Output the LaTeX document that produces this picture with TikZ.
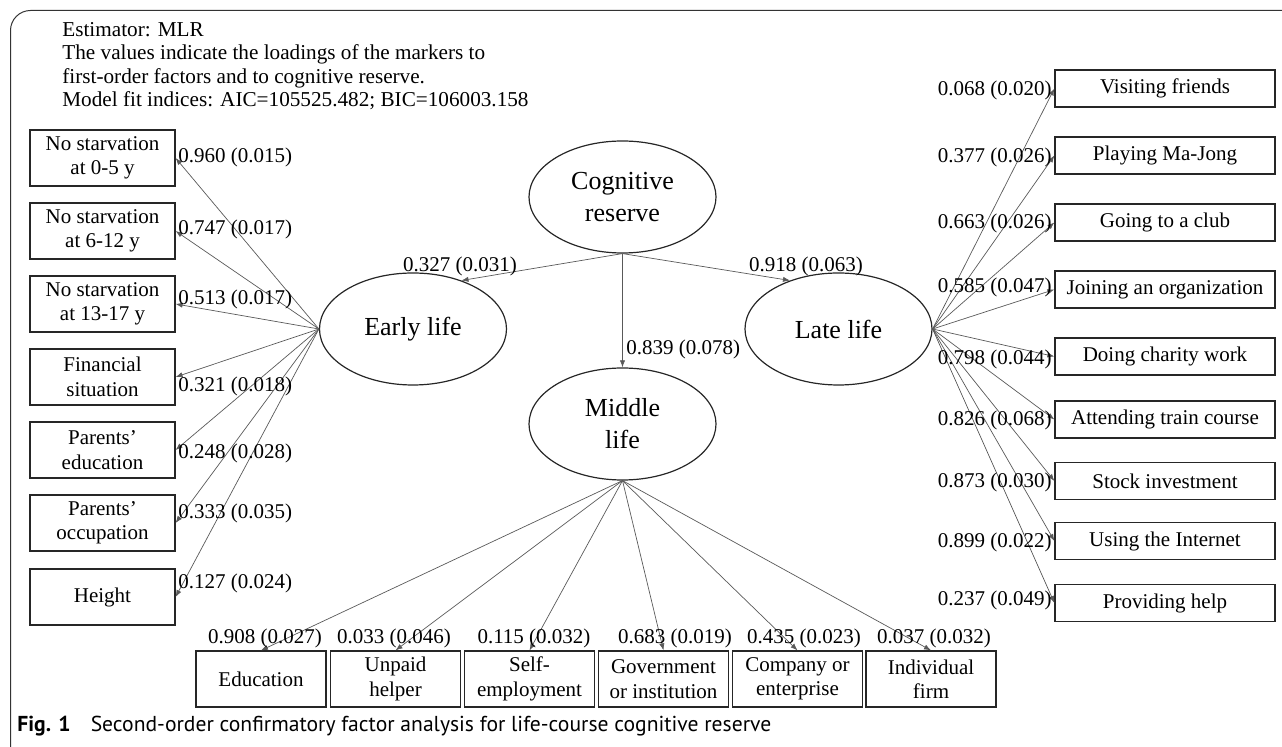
\documentclass[tikz,border=0pt]{standalone}
\usepackage{fontspec}
\setmainfont{Liberation Serif}
\setsansfont{PT Sans}
\usetikzlibrary{arrows.meta,shapes.geometric}

\tikzset{
  obs/.style={draw=black!85,line width=0.6pt,align=center,inner sep=0pt,font=\fontsize{10.5}{12.2}\selectfont},
  leftbox/.style={obs,minimum width=72.5pt,minimum height=28pt},
  rightbox/.style={obs,minimum width=110pt,minimum height=18.5pt},
  botbox/.style={obs,minimum width=65pt,minimum height=28pt},
  latent/.style={ellipse,draw=black!85,line width=0.6pt,minimum width=93.5pt,minimum height=56pt,inner sep=0pt,align=center,font=\fontsize{13}{16}\selectfont},
  load/.style={draw=black!65,line width=0.35pt,-{Latex[length=3.5pt,width=2.6pt]}},
  val/.style={inner sep=1pt,font=\fontsize{10.5}{12.6}\selectfont},
}

\begin{document}
\begin{tikzpicture}[x=0.5pt,y=-0.5pt]
\useasboundingbox (0,0) rectangle (1282,747);
\clip (0,0) rectangle (1282,747);

% Frame
\draw[black!80,line width=0.5pt,rounded corners=10pt] (40,770) -- (10.5,770) -- (10.5,10.5) -- (1300,10.5);

% Notes
\node[anchor=north west,inner sep=0pt,align=left,font=\fontsize{10.6}{11.7}\selectfont] (note) at (62,22)
  {Estimator: MLR\\The values indicate the loadings of the markers to\\first-order factors and to cognitive reserve.\\Model fit indices: AIC=105525.482; BIC=106003.158};

% Latent factors
\node[latent] (cr) at (622.5,197) {Cognitive\\reserve};
\node[latent] (early) at (413,329) {Early life};
\node[latent] (late) at (838.5,329) {Late life};
\node[latent] (mid) at (622.5,424) {Middle\\life};

% Second-order loadings
\draw[load] (cr.south) -- (early.45);
\draw[load] (cr.south) -- (mid.north);
\draw[load] (cr.south) -- (late.135);
\node[val] (vearly) at (460,266) {0.327 (0.031)};
\node[val,anchor=west] (vmid) at (624,349) {0.839 (0.078)};
\node[val] (vlate) at (806,266) {0.918 (0.063)};

% Early life markers
\node[leftbox] (e1) at (102.5,158) {No starvation\\at 0-5 y};
\node[leftbox] (e2) at (102.5,231) {No starvation\\at 6-12 y};
\node[leftbox] (e3) at (102.5,304) {No starvation\\at 13-17 y};
\node[leftbox] (e4) at (102.5,377) {Financial\\situation};
\node[leftbox] (e5) at (102.5,450) {Parents'\\education};
\node[leftbox] (e6) at (102.5,523) {Parents'\\occupation};
\node[leftbox] (e7) at (102.5,597) {Height};
\draw[load] (early.west) -- (e1.east);
\draw[load] (early.west) -- (e2.east);
\draw[load] (early.west) -- (e3.east);
\draw[load] (early.west) -- (e4.east);
\draw[load] (early.west) -- (e5.east);
\draw[load] (early.west) -- (e6.east);
\draw[load] (early.west) -- (e7.east);
\node[val,anchor=west] (ve1) at (176,157) {0.960 (0.015)};
\node[val,anchor=west] (ve2) at (176,229) {0.747 (0.017)};
\node[val,anchor=west] (ve3) at (176,299) {0.513 (0.017)};
\node[val,anchor=west] (ve4) at (176,386) {0.321 (0.018)};
\node[val,anchor=west] (ve5) at (176,453) {0.248 (0.028)};
\node[val,anchor=west] (ve6) at (176,513) {0.333 (0.035)};
\node[val,anchor=west] (ve7) at (176,583) {0.127 (0.024)};

% Late life markers
\node[rightbox] (l1) at (1165,88.5) {Visiting friends};
\node[rightbox] (l2) at (1165,155.5) {Playing Ma-Jong};
\node[rightbox] (l3) at (1165,222.5) {Going to a club};
\node[rightbox] (l4) at (1165,289.5) {Joining an organization};
\node[rightbox] (l5) at (1165,356.5) {Doing charity work};
\node[rightbox] (l6) at (1165,419.5) {Attending train course};
\node[rightbox] (l7) at (1165,481) {Stock investment};
\node[rightbox] (l8) at (1165,541) {Using the Internet};
\node[rightbox] (l9) at (1165,603) {Providing help};
\draw[load] (late.east) -- (l1.west);
\draw[load] (late.east) -- (l2.west);
\draw[load] (late.east) -- (l3.west);
\draw[load] (late.east) -- (l4.west);
\draw[load] (late.east) -- (l5.west);
\draw[load] (late.east) -- (l6.west);
\draw[load] (late.east) -- (l7.west);
\draw[load] (late.east) -- (l8.west);
\draw[load] (late.east) -- (l9.west);
\node[val,anchor=east] (vl1) at (1054,90) {0.068 (0.020)};
\node[val,anchor=east] (vl2) at (1054,157) {0.377 (0.026)};
\node[val,anchor=east] (vl3) at (1054,223) {0.663 (0.026)};
\node[val,anchor=east] (vl4) at (1054,287) {0.585 (0.047)};
\node[val,anchor=east] (vl5) at (1054,359) {0.798 (0.044)};
\node[val,anchor=east] (vl6) at (1054,420) {0.826 (0.068)};
\node[val,anchor=east] (vl7) at (1054,482) {0.873 (0.030)};
\node[val,anchor=east] (vl8) at (1054,542) {0.899 (0.022)};
\node[val,anchor=east] (vl9) at (1054,600) {0.237 (0.049)};

% Middle life markers
\node[botbox] (m1) at (261,679) {Education};
\node[botbox] (m2) at (395.5,679) {Unpaid\\helper};
\node[botbox] (m3) at (529.5,679) {Self-\\employment};
\node[botbox] (m4) at (663.5,679) {Government\\or institution};
\node[botbox] (m5) at (797.5,679) {Company or\\enterprise};
\node[botbox] (m6) at (931,679) {Individual\\firm};
\draw[load] (mid.south) -- (m1.north);
\draw[load] (mid.south) -- (m2.north);
\draw[load] (mid.south) -- (m3.north);
\draw[load] (mid.south) -- (m4.north);
\draw[load] (mid.south) -- (m5.north);
\draw[load] (mid.south) -- (m6.north);
\node[val] (vm1) at (265,638) {0.908 (0.027)};
\node[val] (vm2) at (394,638) {0.033 (0.046)};
\node[val] (vm3) at (534,638) {0.115 (0.032)};
\node[val] (vm4) at (675,638) {0.683 (0.019)};
\node[val] (vm5) at (804,638) {0.435 (0.023)};
\node[val] (vm6) at (934,638) {0.037 (0.032)};

% Caption
\node[anchor=west,inner sep=0pt,font=\sffamily\fontsize{10.8}{12}\selectfont] (caption) at (17,726)
  {\textbf{Fig. 1}\enspace\, Second-order confirmatory factor analysis for life-course cognitive reserve};
\end{tikzpicture}
\end{document}
